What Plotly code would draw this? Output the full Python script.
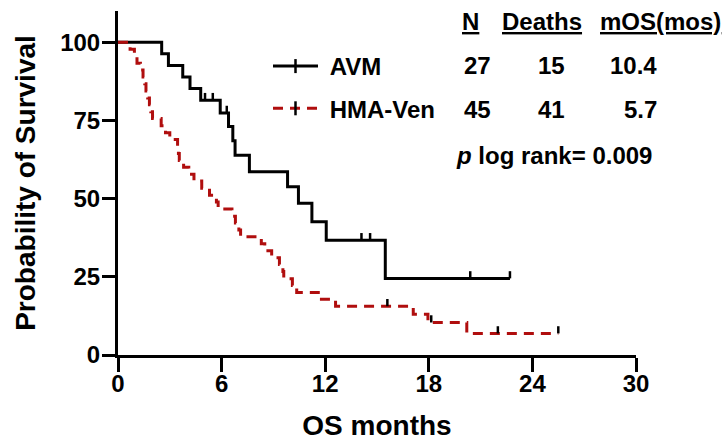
import plotly.graph_objects as go

# ---------------- data ----------------
# AVM Kaplan-Meier step points (months, % survival)
avm_t = [0, 2.53, 2.92, 3.75, 4.17, 4.79, 5.92, 6.40, 6.65, 6.78, 7.61, 9.82,
         10.45, 11.23, 12.06, 15.48, 22.7]
avm_s = [100, 96.3, 92.6, 88.9, 85.2, 81.5, 77.4, 73.1, 68.5, 63.9, 58.6, 53.8,
         48.5, 42.6, 36.7, 24.5, 24.5]
avm_cens_t = [5.04, 5.49, 6.30, 14.1, 14.6, 20.4, 22.7]
avm_cens_s = [81.5, 81.5, 77.4, 36.7, 36.7, 24.5, 24.5]

# HMA-Ven Kaplan-Meier step points
hma_t = [0, 0.7, 0.95, 1.1, 1.3, 1.45, 1.55, 1.62, 1.72, 1.82,
         1.9, 2.0, 2.5, 2.75, 3.0, 3.45, 3.5, 3.55, 3.8, 4.1,
         4.4, 4.85, 5.3, 5.7, 5.8, 6.6, 6.8, 7.0, 7.1, 8.3,
         8.5, 8.9, 9.35, 9.55, 9.6, 10.1, 10.35, 11.6, 12.6, 17.1,
         17.95, 20.2, 25.5]
hma_s = [100, 97.8, 95.6, 93.3, 91.1, 88.9, 86.7, 84.4, 82.2, 80.0,
         77.8, 75.6, 73.3, 71.1, 68.9, 66.7, 64.4, 62.2, 60.0, 57.8,
         55.6, 53.3, 51.1, 48.9, 46.7, 44.4, 42.2, 40.0, 37.8, 35.6,
         33.3, 31.1, 28.9, 26.7, 24.4, 22.2, 20.0, 17.8, 15.6, 13.0,
         10.4, 6.9, 6.9]
hma_cens_t = [15.6, 18.14, 22.0, 25.5]
hma_cens_s = [15.6, 10.4, 6.9, 6.9]

x_ticks = [0, 6, 12, 18, 24, 30]
y_ticks = [0, 25, 50, 75, 100]

series_names = ["AVM", "HMA-Ven"]
table_header = ["N", "Deaths", "mOS(mos)"]
avm_row = ["27", "15", "10.4"]
hma_row = ["45", "41", "5.7"]
p_text = "<i>p</i> log rank= 0.009"

# ---------------- style ----------------
FONT = "Liberation Sans, Arial, sans-serif"
BLACK = "#000000"
RED = "#B00E0E"
DASH = "10px,7px"
NBSP = "\u00a0"

fig = go.Figure()

# curves
fig.add_trace(go.Scatter(x=avm_t, y=avm_s, mode="lines", line_shape="hv",
                         line=dict(color=BLACK, width=3), showlegend=False,
                         hoverinfo="skip"))
fig.add_trace(go.Scatter(x=hma_t, y=hma_s, mode="lines", line_shape="hv",
                         line=dict(color=RED, width=3, dash=DASH), showlegend=False,
                         hoverinfo="skip"))

# censor ticks (upward error bars)
for ct, cs in [(avm_cens_t, avm_cens_s), (hma_cens_t, hma_cens_s)]:
    fig.add_trace(go.Scatter(
        x=ct, y=cs, mode="markers",
        marker=dict(size=1, color="rgba(0,0,0,0)"),
        error_y=dict(type="constant", value=2.3, symmetric=False, valueminus=0,
                     width=0, thickness=2.5, color=BLACK),
        showlegend=False, hoverinfo="skip"))

# legend entries
fig.add_trace(go.Scatter(x=[None], y=[None], mode="lines+markers",
                         name=NBSP + series_names[0],
                         line=dict(color=BLACK, width=3),
                         marker=dict(symbol="line-ns", size=10,
                                     line=dict(width=2.5, color=BLACK)),
                         legendgroup="a"))
fig.add_trace(go.Scatter(x=[None], y=[None], mode="lines+markers",
                         name=NBSP + series_names[1],
                         line=dict(color=RED, width=3, dash=DASH),
                         marker=dict(symbol="line-ns", size=10,
                                     line=dict(width=2.5, color=BLACK)),
                         legendgroup="b"))

# table annotations (pixel -> paper conversion helpers)
L, R, T, B = 118, 92, 11, 86
W, H = 728, 441
pw, ph = W - L - R, H - T - B


def px(xp):
    return (xp - L) / pw


def py(yp):
    return (H - B - yp) / ph


ann = []
hdr_x = [460, 500, 598]
for txt, xx in zip(table_header, hdr_x):
    ann.append(dict(text="<u>" + txt + "</u>", x=px(xx), y=py(21), xanchor="left"))
row_pos = [(462, "left"), (551, "center"), (659, "right")]
for row, yy in [(avm_row, 66), (hma_row, 110)]:
    for txt, (xx, anc) in zip(row, row_pos):
        ann.append(dict(text=txt, x=px(xx), y=py(yy), xanchor=anc))
ann.append(dict(text=p_text, x=px(454), y=py(155), xanchor="left"))
for a in ann:
    a.update(xref="paper", yref="paper", yanchor="middle", showarrow=False,
             font=dict(family=FONT, size=24, color=BLACK, weight="bold"))

fig.update_layout(
    width=W, height=H, autosize=False,
    margin=dict(l=L, r=R, t=T, b=B, pad=0),
    paper_bgcolor="white", plot_bgcolor="white",
    font=dict(family=FONT, color=BLACK),
    annotations=ann,
    legend=dict(x=px(268), y=py(44), xanchor="left", yanchor="top",
                traceorder="grouped", tracegroupgap=8, itemwidth=45,
                bgcolor="rgba(0,0,0,0)",
                font=dict(family=FONT, size=24, color=BLACK, weight="bold")),
    xaxis=dict(range=[0, 30], tickvals=x_ticks, ticks="outside", ticklen=14,
               tickwidth=3, tickcolor=BLACK, showline=True, linewidth=3,
               linecolor=BLACK, showgrid=False, zeroline=False, automargin=False,
               ticklabelstandoff=-9,
               tickfont=dict(family=FONT, size=24, color=BLACK, weight="bold"),
               title=dict(text="OS months", standoff=29,
                          font=dict(family=FONT, size=28, color=BLACK, weight="bold"))),
    yaxis=dict(range=[0, 110], tickvals=y_ticks, ticks="outside", ticklen=13,
               tickwidth=3, tickcolor=BLACK, showline=True, linewidth=3,
               linecolor=BLACK, showgrid=False, zeroline=False, automargin=False,
               ticklabelstandoff=-3,
               tickfont=dict(family=FONT, size=24, color=BLACK, weight="bold"),
               title=dict(text="Probability of Survival", standoff=17,
                          font=dict(family=FONT, size=28, color=BLACK, weight="bold"))),
)

fig.write_html("out.html", config={"displayModeBar": False, "staticPlot": True},
               post_script="document.body.style.margin='0';document.body.style.overflow='hidden';")
